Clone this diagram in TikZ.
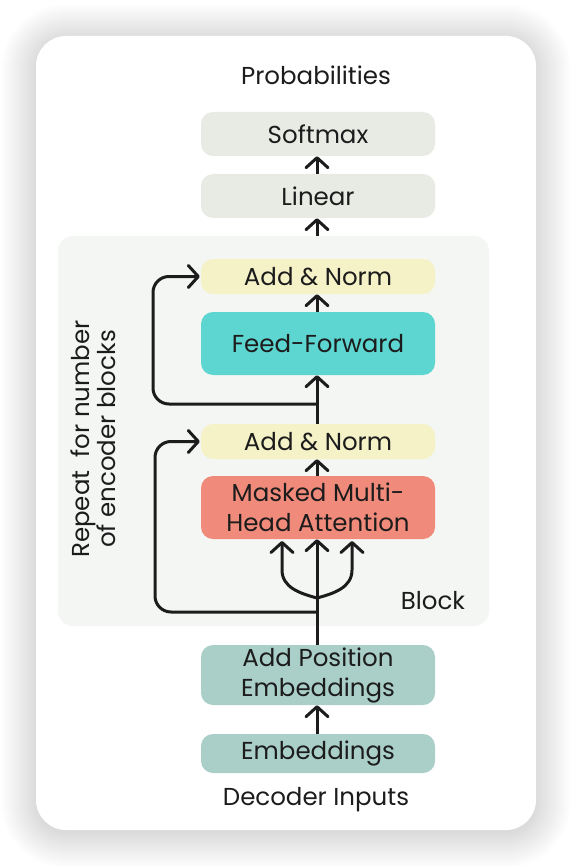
\documentclass[tikz,border=0pt]{standalone}
\usepackage{fontspec}
\setmainfont{Poppins}
\usetikzlibrary{arrows.meta}
\definecolor{softgray}{HTML}{E8EBE3}
\definecolor{blockbg}{HTML}{F4F6F3}
\definecolor{addnorm}{HTML}{F5F2C8}
\definecolor{ffc}{HTML}{5DD5D0}
\definecolor{mhac}{HTML}{F08A7A}
\definecolor{embc}{HTML}{A9CFC8}
\definecolor{ink}{HTML}{1C1C1C}
\begin{document}
\begin{tikzpicture}[x=1pt,y=-1pt,
  box/.style={rounded corners=12pt, minimum width=234pt, inner sep=0pt, align=center,
    text=ink, font=\fontsize{24.5}{30}\selectfont},
  lbl/.style={text=ink, font=\fontsize{24.5}{30}\selectfont, inner sep=0pt},
  arr/.style={draw=ink, line width=3pt, -{Straight Barb[length=10pt,width=22pt,round]}},
  ln/.style={draw=ink, line width=3pt}]
\useasboundingbox (0,0) rectangle (572,866);
\fill[white] (0,0) rectangle (572,866);
\foreach \i in {0,...,35}{
  \fill[black, opacity=0.0045, rounded corners=30pt+\i*1pt] (36-\i,36-\i+3) rectangle (536+\i,830+\i+3);
}
\fill[white, rounded corners=30pt] (36,36) rectangle (536,830);
% block background
\node[fill=blockbg, rounded corners=15pt, minimum width=431pt, minimum height=390pt, inner sep=0pt] (blk) at (273.5,431) {};
% labels
\node[lbl] (prob) at (316,75) {Probabilities};
\node[lbl] (dec) at (316,800) {Decoder Inputs};
\node[lbl] (block) at (433,601) {Block};
\node[lbl, rotate=90, align=center, font=\fontsize{24.5}{23}\selectfont] (rep) at (93,439) {Repeat\ \ for number\\of encoder blocks};
% boxes
\node[box, fill=softgray, minimum height=44pt] (soft) at (318,134) {Softmax};
\node[box, fill=softgray, minimum height=44pt] (lin) at (318,196) {Linear};
\node[box, fill=addnorm, minimum height=35pt] (an1) at (318,276.5) {Add \& Norm};
\node[box, fill=ffc, minimum height=63pt] (ff) at (318,343.5) {Feed-Forward};
\node[box, fill=addnorm, minimum height=35pt] (an2) at (318,441.5) {Add \& Norm};
\node[box, fill=mhac, minimum height=63pt] (mha) at (318,507.5) {Masked Multi-\\Head Attention};
\node[box, fill=embc, minimum height=60pt] (ape) at (318,675) {Add Position\\Embeddings};
\node[box, fill=embc, minimum height=39pt] (emb) at (318,753.5) {Embeddings};
% coordinates
\coordinate (r1) at (317,404);
\coordinate (r2) at (317,612);
\coordinate (sp) at (317,598);
\coordinate (ml) at (282,541);
\coordinate (mr) at (352,541);
% connectors
\draw[arr] (lin.north -| 317,0) -- (soft.south -| 317,0);
\draw[arr] (blk.north -| 317,0) -- (lin.south -| 317,0);
\draw[arr] (ff.north -| 317,0) -- (an1.south -| 317,0);
\draw[arr] (an2.north -| 317,0) -- (ff.south -| 317,0);
\draw[arr] (mha.north -| 317,0) -- (an2.south -| 317,0);
\draw[arr] (ape.north -| 317,0) -- (mha.south -| 317,0);
\draw[arr] (emb.north -| 317,0) -- (ape.south -| 317,0);
\draw[arr, rounded corners=16pt] (r1) -- (153,404) -- (153,276.5) -- ([xshift=-1pt]an1.west);
\draw[arr, rounded corners=16pt] (r2) -- (155,612) -- (155,441.5) -- ([xshift=-1pt]an2.west);
\draw[arr] (sp) to[out=165,in=-90] (282,570) -- (ml);
\draw[arr] (sp) to[out=15,in=-90] (352,570) -- (mr);
\end{tikzpicture}
\end{document}
